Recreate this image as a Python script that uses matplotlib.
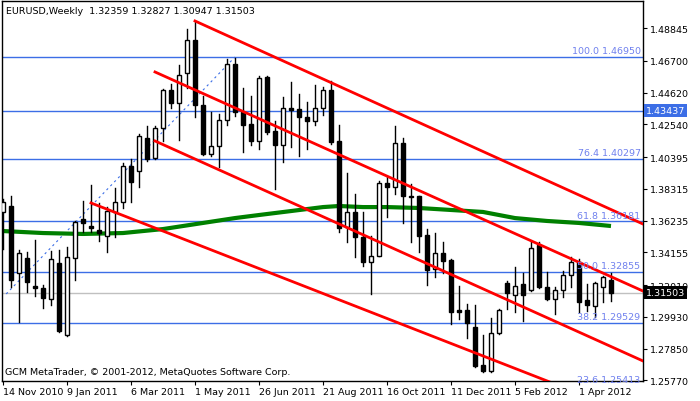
import matplotlib
matplotlib.use("Agg")
import matplotlib.pyplot as plt
import numpy as np

opens = [1.3680,1.3719,1.3280,1.3378,1.3195,1.3182,1.3110,1.3346,1.2874,1.3378,
         1.3634,1.3588,1.3562,1.3523,1.3680,1.3745,1.3981,1.3948,1.4164,1.4033,
         1.4230,1.4479,1.4394,1.4590,1.4806,1.4381,1.4060,1.4112,1.4282,1.4649,
         1.4335,1.4256,1.4145,1.4564,1.4210,1.4119,1.4361,1.4355,1.4302,1.4276,
         1.4361,1.4479,1.4145,1.3582,1.3680,1.3516,1.3352,1.3392,1.3870,1.3844,
         1.4132,1.3785,1.3785,1.3529,1.3306,1.3411,1.3365,1.3038,1.3038,1.2927,
         1.2678,1.2638,1.2887,1.3215,1.3136,1.3208,1.3169,1.3464,1.3189,1.3110,
         1.3169,1.3267,1.3352,1.3103,1.3064,1.3189,1.32359]
highs = [1.3765,1.3785,1.3431,1.3418,1.3496,1.3202,1.3424,1.3431,1.3451,1.3621,
         1.3752,1.3857,1.3739,1.3712,1.3837,1.4001,1.4027,1.4191,1.4243,1.4243,
         1.4485,1.4518,1.4643,1.4878,1.4931,1.4440,1.4335,1.4322,1.4682,1.4688,
         1.4492,1.4440,1.4571,1.4571,1.4276,1.4433,1.4531,1.4453,1.4400,1.4512,
         1.4499,1.4538,1.4250,1.3935,1.3798,1.3680,1.3523,1.3883,1.3909,1.4243,
         1.4164,1.3863,1.3785,1.3568,1.3542,1.3483,1.3372,1.3195,1.3077,1.3071,
         1.2874,1.2985,1.3044,1.3228,1.3320,1.3280,1.3483,1.3483,1.3287,1.3189,
         1.3293,1.3385,1.3372,1.3208,1.3221,1.3261,1.32827]
lows = [1.3437,1.3189,1.2959,1.3156,1.3130,1.3051,1.3071,1.2894,1.2867,1.3234,
        1.3549,1.3549,1.3490,1.3418,1.3516,1.3706,1.3745,1.3844,1.4014,1.4027,
        1.4145,1.4361,1.4151,1.4492,1.4302,1.4053,1.4047,1.3975,1.4250,1.4309,
        1.4073,1.4119,1.4092,1.4191,1.3830,1.4007,1.4106,1.4047,1.4092,1.4250,
        1.4315,1.4125,1.3549,1.3483,1.3385,1.3326,1.3143,1.3392,1.3647,1.3798,
        1.3608,1.3483,1.3418,1.3202,1.3254,1.3280,1.2946,1.2979,1.2854,1.2664,
        1.2632,1.2632,1.2881,1.3044,1.3025,1.2966,1.3162,1.3182,1.3103,1.3012,
        1.3123,1.3189,1.3025,1.3031,1.2992,1.3090,1.30947]
closes = [1.3745,1.3234,1.3411,1.3221,1.3182,1.3117,1.3372,1.2900,1.3385,1.3614,
          1.3608,1.3575,1.3542,1.3686,1.3745,1.3981,1.3876,1.4178,1.4027,1.4230,
          1.4479,1.4394,1.4577,1.4806,1.4381,1.4060,1.4112,1.4282,1.4649,1.4335,
          1.4250,1.4145,1.4557,1.4204,1.4119,1.4361,1.4348,1.4302,1.4276,1.4361,
          1.4479,1.4138,1.3575,1.3680,1.3516,1.3352,1.3392,1.3870,1.3844,1.4132,
          1.3785,1.3778,1.3523,1.3300,1.3411,1.3359,1.3025,1.3025,1.2953,1.2671,
          1.2638,1.2887,1.3038,1.3149,1.3195,1.3136,1.3444,1.3189,1.3110,1.3169,
          1.3267,1.3352,1.3090,1.3071,1.3215,1.3254,1.31503]

ma_idx = [0,5,10,15,20,25,29,32,36,40,42,45,48,52,56,60,64,68,72,76]
ma_val = [1.3555,1.3542,1.3536,1.3542,1.3568,1.3608,1.3640,1.3660,1.3686,1.3712,
          1.3719,1.3712,1.3712,1.3706,1.3693,1.3680,1.3640,1.3621,1.3608,1.3588]

channel_lines = [((24,1.4931),(80,1.3601)),
                 ((19,1.4597),(80,1.3162)),
                 ((19,1.4145),(80,1.2704)),
                 ((11,1.3739),(80,1.2328))]
fib_trend = ((0.4,1.3143),(29,1.4695))
fib_levels = [100.0,76.4,61.8,50.0,38.2,23.6]
fib_prices = [1.46950,1.40297,1.36181,1.32855,1.29529,1.25413]
hline_extra = 1.43437
last_price = 1.31503

yticks = [1.48845,1.46700,1.44620,1.42540,1.40395,1.38315,1.36235,1.34155,1.32010,1.29930,1.27850,1.25770]
xtick_idx = [0,8,16,24,32,40,48,56,64,72]
xtick_lab = ["14 Nov 2010","9 Jan 2011","6 Mar 2011","1 May 2011","26 Jun 2011",
             "21 Aug 2011","16 Oct 2011","11 Dec 2011","5 Feb 2012","1 Apr 2012"]

fig = plt.figure(figsize=(7,4.02), dpi=100)
ax = fig.add_axes([2/700, 20/402, 641/700, 380/402])
ax.set_xlim(-0.125, 80)
ax.set_ylim(1.25728, 1.50618)

blue = '#3c6ee6'
for p in fib_prices + [hline_extra]:
    ax.axhline(p, color=blue, lw=1, zorder=1)
ax.axhline(last_price, color='#c0c0c0', lw=1, zorder=1)
ax.plot([fib_trend[0][0],fib_trend[1][0]],[fib_trend[0][1],fib_trend[1][1]],
        color=blue, lw=0.8, ls=(0,(2,3)), zorder=1)
ax.plot(ma_idx, ma_val, color='#008000', lw=3, zorder=2, solid_capstyle='butt')

w = 0.62
for i,(o,h,l,c) in enumerate(zip(opens,highs,lows,closes)):
    ax.plot([i,i],[l,h], color='black', lw=1, zorder=3)
    fc = 'white' if c >= o else 'black'
    bot = min(o,c); ht = max(abs(c-o), 0.0003)
    ax.add_patch(plt.Rectangle((i-w/2, bot), w, ht, facecolor=fc, edgecolor='black', lw=1, zorder=4))

for (a,b) in channel_lines:
    ax.plot([a[0],b[0]],[a[1],b[1]], color='red', lw=2, zorder=5)

for lv,p in zip(fib_levels,fib_prices):
    ax.text(79.7, p+0.0012, f"{lv:.1f} {p:.5f}", color='#6f80ee', fontsize=6.8,
            ha='right', va='bottom', zorder=6, clip_on=False)

ax.yaxis.tick_right()
ax.set_yticks(yticks)
ax.set_yticklabels([f"{t:.5f}" for t in yticks])
ax.tick_params(axis='y', direction='out', length=3, labelsize=6.8, pad=2)
ax.set_xticks(xtick_idx)
ax.set_xticklabels(xtick_lab)
for lab in ax.get_xticklabels():
    lab.set_ha('left')
ax.tick_params(axis='x', direction='out', length=3, labelsize=6.8, pad=1)
for s in ax.spines.values():
    s.set_linewidth(1)

ax.text(1.005, (hline_extra-1.25728)/(1.50618-1.25728), f"{hline_extra:.5f}", transform=ax.transAxes,
        color='white', fontsize=6.8, va='center', ha='left',
        bbox=dict(boxstyle='square,pad=0.2', fc='#3c6ee6', ec='none'), zorder=10)
ax.text(1.005, (last_price-1.25728)/(1.50618-1.25728), f"{last_price:.5f}", transform=ax.transAxes,
        color='white', fontsize=6.8, va='center', ha='left',
        bbox=dict(boxstyle='square,pad=0.2', fc='black', ec='none'), zorder=10)

fig.text(6/700, 1-11/402, f"EURUSD,Weekly  {opens[-1]:.5f} {highs[-1]:.5f} {lows[-1]:.5f} {closes[-1]:.5f}",
         fontsize=6.8, va='center', ha='left')
ax.text(0.005, 0.012, "GCM MetaTrader, © 2001-2012, MetaQuotes Software Corp.", transform=ax.transAxes,
        fontsize=6.8, va='bottom', ha='left', zorder=10)

fig.savefig("out.png", dpi=100)
